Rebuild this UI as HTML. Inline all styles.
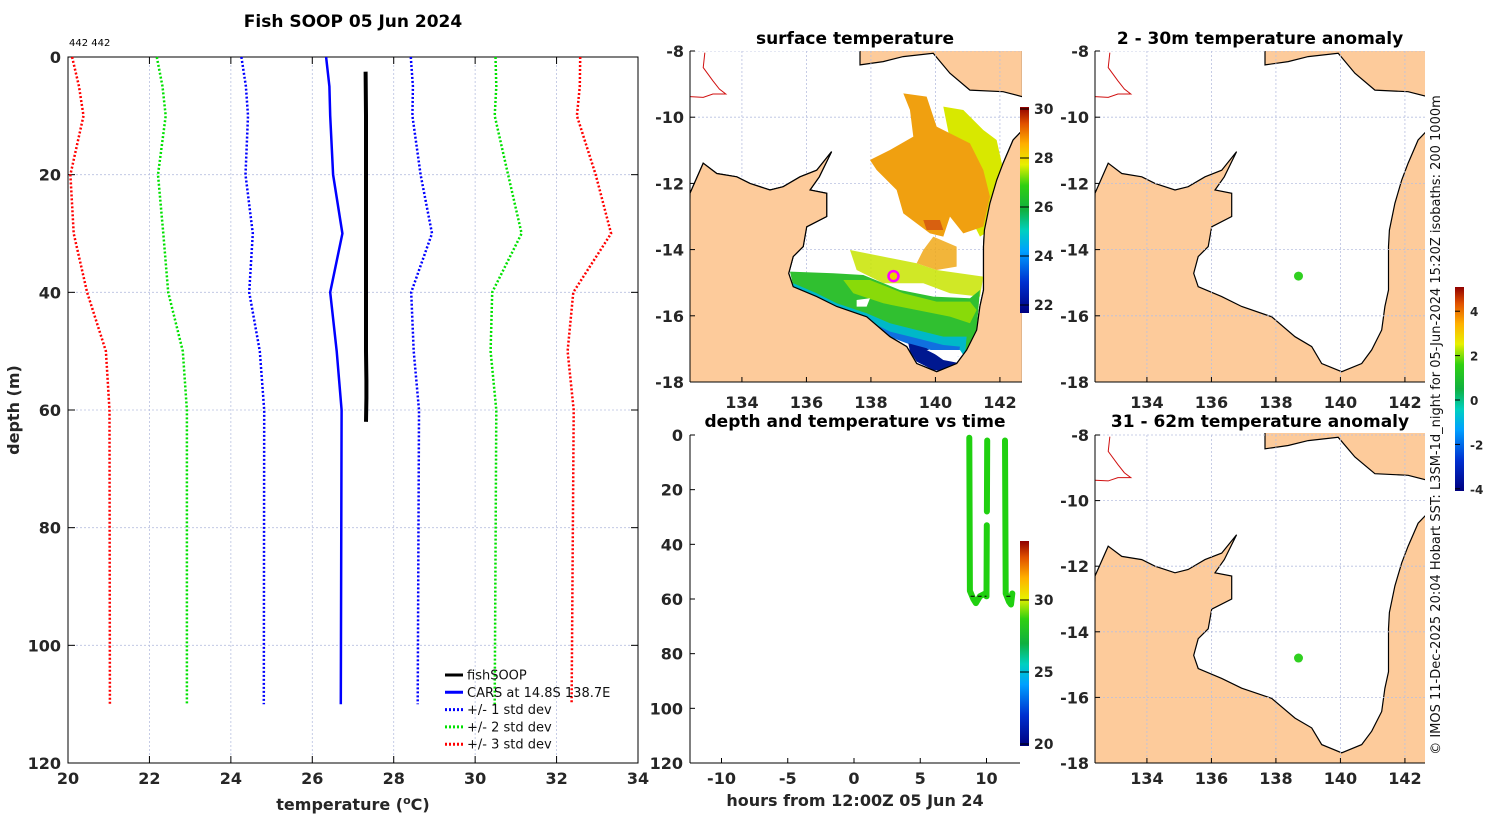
<!DOCTYPE html>
<html><head><meta charset="utf-8">
<style>
body{margin:0;background:#fff;}
svg{display:block;font-family:"DejaVu Sans","Liberation Sans",sans-serif;}
.tk{font-size:16px;font-weight:bold;fill:#262626;}
.tks{font-size:14px;font-weight:bold;fill:#262626;}
.ttl{font-size:17px;font-weight:bold;fill:#000;}
.grid{stroke:#b8c0e0;stroke-width:0.8;stroke-dasharray:2,2;}
</style></head>
<body>
<svg id="fig" width="1500" height="820" viewBox="0 0 1500 820">
<defs>
<linearGradient id="jet" x1="0" y1="1" x2="0" y2="0">
<stop offset="0" stop-color="#00007f"/><stop offset="0.15" stop-color="#0030d0"/><stop offset="0.3" stop-color="#00a0ff"/><stop offset="0.4" stop-color="#00d0c0"/><stop offset="0.5" stop-color="#10b040"/><stop offset="0.62" stop-color="#30d010"/><stop offset="0.72" stop-color="#e8f000"/><stop offset="0.82" stop-color="#ffb000"/><stop offset="0.92" stop-color="#e05000"/><stop offset="1" stop-color="#900000"/>
</linearGradient>
<clipPath id="cSurf"><rect x="690" y="51" width="332" height="331"/></clipPath>
<clipPath id="cA1"><rect x="1095" y="51" width="330" height="331"/></clipPath>
<clipPath id="cA2"><rect x="1095" y="433" width="330" height="330"/></clipPath>
</defs>
<g id="left"></g>
<g id="surf"></g>
<g id="tvt"></g>
<g id="an1"></g>
<g id="an2"></g>
<text x="1440" y="425" transform="rotate(-90 1440 425)" text-anchor="middle" font-size="13" fill="#111">© IMOS 11-Dec-2025 20:04 Hobart SST: L3SM-1d_night for 05-Jun-2024 15:20Z isobaths: 200  1000m</text>
</svg>
<script>
// ---- profile data ----
const depths=[0,5,10,20,30,40,50,60,110];
const carsMean=[26.34,26.42,26.44,26.51,26.74,26.44,26.6,26.72,26.7];
const carsStd=[2.08,2.05,2.02,2.15,2.2,1.99,1.89,1.9,1.89];
const soopDepth=[2.5,10,20,30,40,50,55,58,62];
const soopTemp=[27.31,27.32,27.32,27.32,27.32,27.32,27.33,27.33,27.32];
const xTicks=[20,22,24,26,28,30,32,34];
const yTicks=[0,20,40,60,80,100,120];
// ---- time series ----
const trackHours=[8.7,8.75,9.0,9.2,9.5,9.9,10.0,10.02,null,10.03,10.05,null,11.4,11.45,11.7,11.85,11.95];
const trackDepth=[1,57,60,61.5,59,58,59,33,null,28,2,null,2,58,61,62,58];
const hourTicks=[-10,-5,0,5,10];
// ---- maps ----
const lonTicks=[134,136,138,140,142];
const latTicks=[-8,-10,-12,-14,-16,-18];
const stationLon=138.7, stationLat=-14.8;
const coastMain=[[132.39,-12.3],[132.8,-11.39],[133.22,-11.7],[133.84,-11.8],[134.25,-12.0],[134.87,-12.2],[135.28,-12.1],[135.8,-11.8],[136.32,-11.6],[136.78,-11.04],[136.4,-11.8],[136.11,-12.2],[136.63,-12.3],[136.63,-13.0],[136.01,-13.31],[135.9,-13.91],[135.59,-14.21],[135.45,-14.72],[135.59,-15.12],[136.32,-15.42],[136.94,-15.72],[137.87,-16.03],[138.59,-16.63],[139.11,-16.93],[139.42,-17.44],[140.04,-17.69],[140.66,-17.44],[140.97,-17.03],[141.28,-16.43],[141.38,-15.72],[141.49,-15.22],[141.49,-13.91],[141.52,-13.41],[141.69,-12.6],[141.9,-11.9],[142.1,-11.39],[142.41,-10.69],[142.7,-10.39],[142.7,-18.2],[132.3,-18.2]];
const coastNorth=[[137.66,-7.9],[137.66,-8.42],[138.38,-8.32],[139.0,-8.17],[139.93,-8.07],[140.45,-8.67],[141.07,-9.18],[142.1,-9.23],[142.7,-9.38],[142.7,-7.9]];
const sstTicks=[22,24,26,28,30];
const tvtTicks=[20,25,30];
const anomTicks=[-4,-2,0,2,4];

const NS="http://www.w3.org/2000/svg";
function mk(parent,tag,attrs,txt){const e=document.createElementNS(NS,tag);for(const k in attrs)e.setAttribute(k,attrs[k]);if(txt!==undefined)e.textContent=txt;parent.appendChild(e);return e;}

// ===== LEFT PROFILE =====
const L=document.getElementById('left');
const xT=t=>68+(t-20)*(570/14);
const yD=d=>57+d*(706/120);
mk(L,'text',{x:353,y:27,'text-anchor':'middle',class:'ttl',},'Fish SOOP 05 Jun 2024');
mk(L,'text',{x:69,y:46,'font-size':10,fill:'#000',},'442 442');
xTicks.forEach(t=>{if(t>20&&t<34){const g=mk(L,'line',{x1:xT(t),x2:xT(t),y1:57,y2:763,class:'grid',stroke:'#e0c0c0'});}
 mk(L,'line',{x1:xT(t),x2:xT(t),y1:763,y2:756,stroke:'#000'});mk(L,'line',{x1:xT(t),x2:xT(t),y1:57,y2:64,stroke:'#000'});
 const tl=mk(L,'text',{x:xT(t),y:784,'text-anchor':'middle',class:'tk'},t);});
yTicks.forEach(d=>{if(d>0&&d<120){const g=mk(L,'line',{x1:68,x2:638,y1:yD(d),y2:yD(d),class:'grid'});}
 mk(L,'line',{x1:68,x2:75,y1:yD(d),y2:yD(d),stroke:'#000'});mk(L,'line',{x1:631,x2:638,y1:yD(d),y2:yD(d),stroke:'#000'});
 const tl=mk(L,'text',{x:61,y:yD(d)+6,'text-anchor':'end',class:'tk'},d);});
mk(L,'rect',{x:68,y:57,width:570,height:706,fill:'none',stroke:'#000','stroke-width':1,});
function line(par,xs,ys,st,name){let d='',pen=false;for(let i=0;i<xs.length;i++){if(xs[i]===null){pen=false;continue;}d+=(pen?'L':'M')+xs[i].toFixed(1)+','+ys[i].toFixed(1);pen=true;}const p=mk(par,'path',Object.assign({d:d,fill:'none'},st));return p;}
const bands=[[3,'#ff0000'],[2,'#00e000'],[1,'#0000ff']];
bands.forEach(([k,c])=>{[-1,1].forEach(s=>{line(L,carsMean.map((m,i)=>xT(m+s*k*carsStd[i])),depths.map(yD),{stroke:c,'stroke-width':2.5,'stroke-dasharray':'2,2'},'cars-'+k+'std-'+(s<0?'low':'high'));});});
line(L,carsMean.map(xT),depths.map(yD),{stroke:'#0000ff','stroke-width':2.5},'cars-mean-line');
line(L,soopTemp.map(xT),soopDepth.map(yD),{stroke:'#000','stroke-width':4},'fishsoop-line');
const legend=[['fishSOOP','#000',''],['CARS at 14.8S 138.7E','#0000ff',''],['+/- 1 std dev','#0000ff','2,2'],['+/- 2 std dev','#00e000','2,2'],['+/- 3 std dev','#ff0000','2,2']];
const LG=mk(L,'g',{});
legend.forEach((e,i)=>{const y=675+i*17.3;const a={x1:445,x2:463,y1:y,y2:y,stroke:e[1],'stroke-width':3};if(e[2])a['stroke-dasharray']=e[2];mk(LG,'line',a);const t=mk(LG,'text',{x:467,y:y+4.5,'font-size':13,fill:'#111'},e[0]);});
const xl=mk(L,'text',{x:353,y:810,'text-anchor':'middle',class:'tk','font-size':17,});
xl.innerHTML='temperature (<tspan dy="-6" font-size="11">o</tspan><tspan dy="6">C)</tspan>';
mk(L,'text',{x:19,y:410,transform:'rotate(-90 19 410)','text-anchor':'middle',class:'tk','font-size':17,},'depth (m)');

// ===== MAPS =====
function mapPanel(G,box,clip,title,ty,lonY){
 const px=lon=>box.x0+(lon-132.39)*32.25, py=lat=>box.y0+(-8-lat)*box.ky;
 mk(G,'text',{x:box.x0+165,y:ty,'text-anchor':'middle',class:'ttl',},title);
 const inner=mk(G,'g',{'clip-path':'url(#'+clip+')'});
 mk(inner,'rect',{x:box.x0,y:box.y0,width:335,height:box.h,fill:'#fff'});
 const poly=(pts,name)=>{const p=mk(inner,'path',{d:'M'+pts.map(q=>px(q[0]).toFixed(1)+','+py(q[1]).toFixed(1)).join('L')+'Z',fill:'#fdcb9b',stroke:'#000','stroke-width':1.2});};
 poly(coastMain,'land-australia');poly(coastNorth,'land-new-guinea');
 mk(inner,'path',{d:`M${px(132.85)},${py(-8.05)} L${px(132.8)},${py(-8.5)} L${px(133.1)},${py(-8.9)} L${px(133.3)},${py(-9.15)} L${px(133.5)},${py(-9.3)} L${px(133.1)},${py(-9.3)} L${px(132.8)},${py(-9.4)} L${px(132.39)},${py(-9.38)}`,fill:'none',stroke:'#d01010','stroke-width':1,});
 lonTicks.forEach(l=>{mk(inner,'line',{x1:px(l),x2:px(l),y1:box.y0,y2:box.y0+box.h,class:'grid'});
  mk(G,'line',{x1:px(l),x2:px(l),y1:box.y0+box.h,y2:box.y0+box.h-5,stroke:'#000'});
  const t=mk(G,'text',{x:px(l),y:lonY,'text-anchor':'middle',class:'tk'},l);});
 latTicks.forEach(l=>{mk(inner,'line',{x1:box.x0,x2:box.x0+335,y1:py(l),y2:py(l),class:'grid'});
  mk(G,'line',{x1:box.x0,x2:box.x0+5,y1:py(l),y2:py(l),stroke:'#000'});
  const t=mk(G,'text',{x:box.x0-6,y:py(l)+6,'text-anchor':'end',class:'tk'},l);});
 mk(G,'line',{x1:box.x0,x2:box.x0,y1:box.y0,y2:box.y0+box.h,stroke:'#000'});
 mk(G,'line',{x1:box.x0,x2:box.x0+box.w,y1:box.y0+box.h,y2:box.y0+box.h,stroke:'#000'});
 return {inner,px,py};
}
// surface map
const S=document.getElementById('surf');
const sm=mapPanel(S,{x0:690,y0:51,ky:33.1,h:331,w:332},'cSurf','surface temperature',44,408);
const blobs=mk(sm.inner,'g',{transform:'translate(650,30) scale(0.3333)',});
const B=(d,c,o)=>mk(blobs,'path',{d:d,fill:c,opacity:o||1});
B('M880,230 L940,240 L1000,300 L1040,330 L1060,420 L1040,520 L1020,600 L990,620 L960,560 L1000,480 L960,400 L900,330Z','#d8e800');
B('M600,660 L700,680 L800,700 L860,720 L1000,740 L990,800 L900,790 L820,760 L700,760 L620,720Z','#c8e400',0.85);
B('M660,390 L720,360 L790,320 L780,240 L760,190 L830,200 L860,290 L960,340 L1000,420 L1020,500 L1000,590 L940,610 L900,560 L880,620 L840,610 L760,550 L740,480 L680,420Z','#f0a010');
B('M820,570 L870,570 L880,600 L830,600Z','#d86010');
B('M850,620 L920,650 L920,710 L860,720 L800,700 L820,660Z','#f0a818',0.85);
B('M420,725 L550,730 L640,735 L750,780 L850,800 L960,805 L990,780 L980,900 L950,970 L860,950 L770,910 L650,870 L560,840 L500,810 L430,770Z','#30c030');
B('M580,750 L660,750 L760,790 L860,815 L960,815 L980,840 L960,880 L900,860 L800,840 L700,820 L610,790Z','#a0e000',0.8);
B('M430,760 L500,790 L560,820 L650,850 L720,880 L800,900 L880,920 L950,920 L945,975 L860,955 L770,930 L650,880 L560,850 L480,820 L425,790Z','#00b8c8');
B('M470,800 L560,835 L650,870 L720,905 L800,925 L880,945 L930,950 L925,980 L860,965 L770,940 L680,905 L600,870 L520,845 L480,830Z','#1070e0');
B('M775,940 L830,955 L880,990 L930,1000 L900,1025 L850,1020 L800,995 L780,965Z','#001890');
B('M830,960 L930,960 L940,975 L900,985 L860,975Z','#ffffff');
B('M620,810 L660,805 L650,830 L620,830Z','#ffffff');
mk(sm.inner,'path',{d:'M'+coastMain.map(q=>sm.px(q[0]).toFixed(1)+','+sm.py(q[1]).toFixed(1)).join('L')+'Z',fill:'#fdcb9b',stroke:'#000','stroke-width':1.2,});
mk(sm.inner,'circle',{cx:sm.px(stationLon),cy:sm.py(stationLat),r:5,fill:'#e8d000',stroke:'#ff00ff','stroke-width':2.5,});
mk(S,'rect',{x:1020,y:107,width:9,height:206,fill:'url(#jet)',});
sstTicks.forEach(v=>{const y=109+(30-v)*24.5;mk(S,'line',{x1:1020,x2:1029,y1:y,y2:y,stroke:'#000'});const t=mk(S,'text',{x:1034,y:y+5,class:'tks'},v);});

// anomaly maps
const A1=document.getElementById('an1');
const a1=mapPanel(A1,{x0:1095,y0:51,ky:33.1,h:331,w:330},'cA1','2 - 30m temperature anomaly',44,408);
mk(a1.inner,'circle',{cx:a1.px(stationLon),cy:a1.py(stationLat),r:4.5,fill:'#30d020',});
const A2=document.getElementById('an2');
const a2=mapPanel(A2,{x0:1095,y0:435,ky:32.8,h:328,w:330},'cA2','31 - 62m temperature anomaly',427,784);
mk(a2.inner,'circle',{cx:a2.px(stationLon),cy:a2.py(stationLat),r:4.5,fill:'#30d020',});
mk(A1,'rect',{x:1455,y:287,width:9,height:204,fill:'url(#jet)',});
anomTicks.forEach(v=>{const y=400-v*22.2;mk(A1,'line',{x1:1455,x2:1460,y1:y,y2:y,stroke:'#000'});const t=mk(A1,'text',{x:1470,y:y+5,'font-size':12,'font-weight':'bold',fill:'#262626'},v);});

// ===== depth vs time =====
const T=document.getElementById('tvt');
const xH=h=>854+h*13.25, yD2=d=>435+d*(328/120);
mk(T,'text',{x:855,y:427,'text-anchor':'middle',class:'ttl',},'depth and temperature vs time');
mk(T,'line',{x1:690,x2:690,y1:435,y2:763,stroke:'#000'});mk(T,'line',{x1:690,x2:1020,y1:763,y2:763,stroke:'#000'});
hourTicks.forEach(h=>{mk(T,'line',{x1:xH(h),x2:xH(h),y1:763,y2:758,stroke:'#000'});const t=mk(T,'text',{x:xH(h),y:784,'text-anchor':'middle',class:'tk'},h);});
yTicks.forEach(d=>{mk(T,'line',{x1:690,x2:695,y1:yD2(d),y2:yD2(d),stroke:'#000'});const t=mk(T,'text',{x:683,y:yD2(d)+6,'text-anchor':'end',class:'tk'},d);});
mk(T,'text',{x:855,y:806,'text-anchor':'middle',class:'tk','font-size':17,},'hours from 12:00Z 05 Jun 24');
line(T,trackHours.map(h=>h===null?null:xH(h)),trackDepth.map(d=>d===null?null:yD2(d)),{stroke:'#20d010','stroke-width':6,'stroke-linecap':'round','stroke-linejoin':'round'},'temperature-track');
mk(T,'line',{x1:xH(8.8),x2:xH(10),y1:yD2(59),y2:yD2(59),stroke:'#000','stroke-width':1,'stroke-dasharray':'4,3',});
mk(T,'line',{x1:xH(11.5),x2:xH(12),y1:yD2(59),y2:yD2(59),stroke:'#000','stroke-width':1,'stroke-dasharray':'4,3'});
mk(T,'rect',{x:1020,y:541,width:9,height:205,fill:'url(#jet)',});
tvtTicks.forEach(v=>{const y=744-(v-20)*14.4;mk(T,'line',{x1:1020,x2:1029,y1:y,y2:y,stroke:'#000'});const t=mk(T,'text',{x:1034,y:y+5,class:'tks'},v);});
</script>
</body></html>
